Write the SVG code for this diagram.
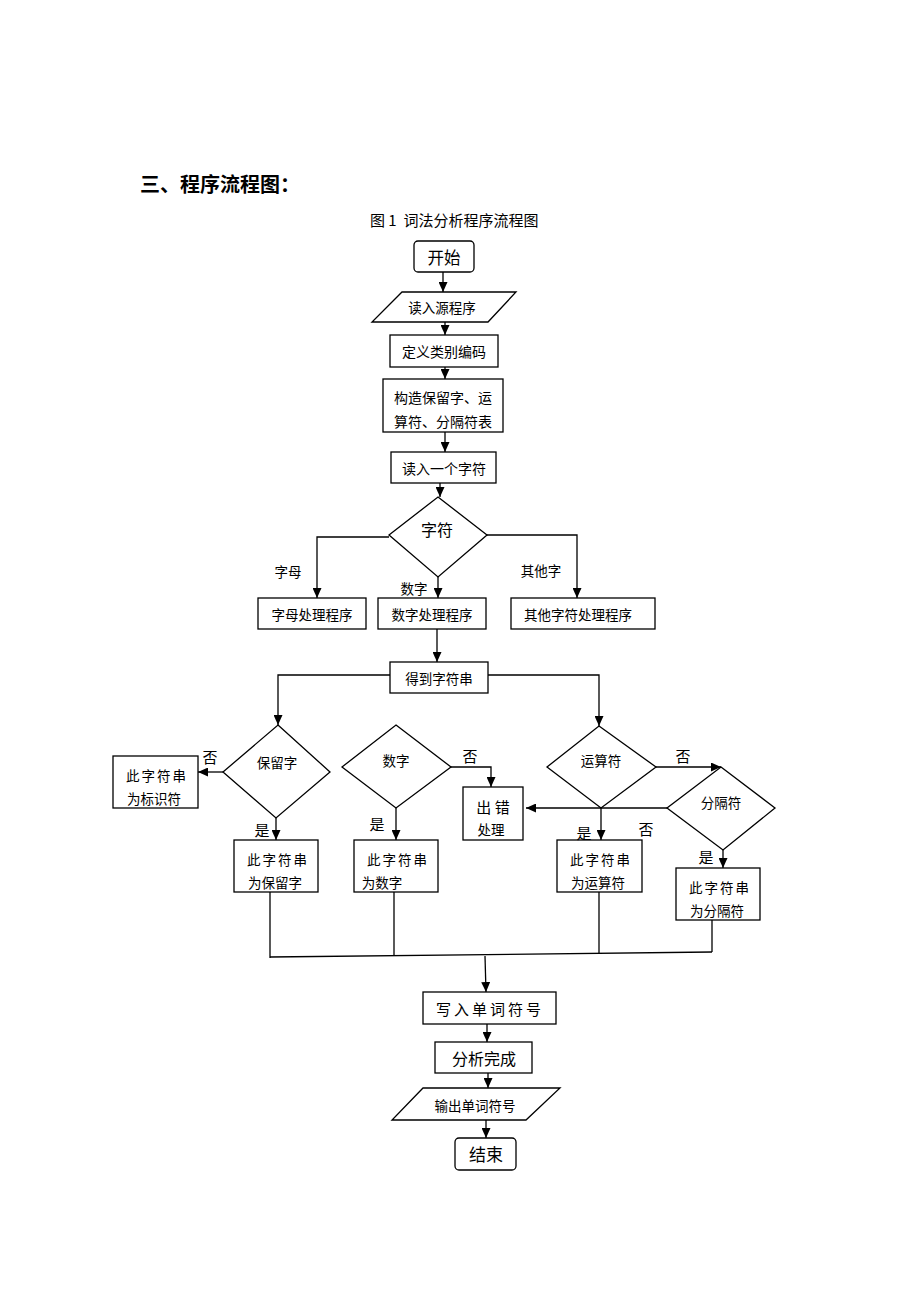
<svg xmlns="http://www.w3.org/2000/svg" width="920" height="1302" viewBox="0 0 920 1302">
<style>
.shape{fill:#fff;stroke:#000;stroke-width:1.3}
.ln{fill:none;stroke:#000;stroke-width:1.3}
.t{font-family:"Noto Sans CJK SC","Liberation Sans",sans-serif;font-size:13.5px;fill:#000;text-anchor:middle}
.sp{letter-spacing:2px}
</style>
<defs>
<marker id="ah" markerUnits="userSpaceOnUse" markerWidth="11" markerHeight="9" refX="10" refY="4.5" orient="auto">
<path d="M0,0 L10,4.5 L0,9 z" fill="#000"/>
</marker>
</defs>
<rect width="920" height="1302" fill="#fff"/>
<text x="140" y="192" style="font-family:'Noto Sans CJK SC','Liberation Sans',sans-serif;font-size:20px;font-weight:bold">三、程序流程图：</text>
<text x="370" y="226" xml:space="preserve" style="font-family:'Noto Sans CJK SC','Liberation Serif',serif;font-size:15px;white-space:pre">图 1  词法分析程序流程图</text>

<g id="start"><rect class="shape" x="414" y="241" width="60" height="31" rx="4"/><text class="t" x="444" y="264" style="font-size:16.5px">开始</text></g>
<g id="read-src"><polygon class="shape" points="402,292 516,292 488,322 372,322"/><text class="t" x="442" y="313">读入源程序</text></g>
<g id="define"><rect class="shape" x="390" y="335" width="108" height="32"/><text class="t" x="444" y="357" style="font-size:14px">定义类别编码</text></g>
<g id="build"><rect class="shape" x="383" y="379" width="120" height="53"/><text class="t" x="443" y="403" style="font-size:14px">构造保留字、运</text><text class="t" x="443" y="427" style="font-size:14px">算符、分隔符表</text></g>
<g id="read-char"><rect class="shape" x="391" y="452" width="105" height="31"/><text class="t" x="444" y="474" style="font-size:14px">读入一个字符</text></g>
<g id="char"><polygon class="shape" points="438,497 487,535 438,577 389,535"/><text class="t" x="437" y="536" style="font-size:16px">字符</text></g>
<g id="letter-proc"><rect class="shape" x="258" y="598" width="108" height="31"/><text class="t" x="312" y="620">字母处理程序</text></g>
<g id="digit-proc"><rect class="shape" x="378" y="598" width="108" height="31"/><text class="t" x="432" y="620">数字处理程序</text></g>
<g id="other-proc"><rect class="shape" x="511" y="598" width="144" height="31"/><text class="t" x="578" y="620">其他字符处理程序</text></g>
<g id="get-str"><rect class="shape" x="390" y="662" width="98" height="31"/><text class="t" x="439" y="684">得到字符串</text></g>
<g id="reserved"><polygon class="shape" points="278,725 330,772 276,818 223,772"/><text class="t" x="277" y="768">保留字</text></g>
<g id="number"><polygon class="shape" points="396,725 451,767 396,808 342,767"/><text class="t" x="396" y="766">数字</text></g>
<g id="operator"><polygon class="shape" points="599,726 656,767 601,808 547,767"/><text class="t" x="601" y="766">运算符</text></g>
<g id="separator"><polygon class="shape" points="721,767 775,808 723,850 667,808"/><text class="t" x="721" y="808">分隔符</text></g>
<g id="identifier"><rect class="shape" x="113" y="756" width="85" height="52"/><text class="t sp" x="157" y="781">此字符串</text><text class="t" x="154" y="804">为标识符</text></g>
<g id="error"><rect class="shape" x="463" y="787" width="60" height="53"/><text class="t" x="493" y="813" style="font-size:15px">出 错</text><text class="t" x="491" y="835">处理</text></g>
<g id="is-reserved"><rect class="shape" x="234" y="840" width="84" height="52"/><text class="t sp" x="278" y="865">此字符串</text><text class="t" x="275" y="888">为保留字</text></g>
<g id="is-number"><rect class="shape" x="354" y="840" width="84" height="52"/><text class="t sp" x="398" y="865">此字符串</text><text class="t" x="382" y="888">为数字</text></g>
<g id="is-operator"><rect class="shape" x="557" y="840" width="85" height="52"/><text class="t sp" x="601" y="865">此字符串</text><text class="t" x="598" y="888">为运算符</text></g>
<g id="is-separator"><rect class="shape" x="676" y="868" width="84" height="52"/><text class="t sp" x="720" y="893">此字符串</text><text class="t" x="717" y="916">为分隔符</text></g>
<g id="write"><rect class="shape" x="423" y="992" width="133" height="32"/><text class="t" x="490" y="1015" style="font-size:15px;letter-spacing:3px">写入单词符号</text></g>
<g id="done"><rect class="shape" x="435" y="1042" width="97" height="31"/><text class="t" x="484" y="1065" style="font-size:16px">分析完成</text></g>
<g id="output"><polygon class="shape" points="423,1088 560,1088 526,1120 392,1120"/><text class="t" x="475" y="1111">输出单词符号</text></g>
<g id="end"><rect class="shape" x="455" y="1138" width="61" height="32" rx="4"/><text class="t" x="486" y="1161" style="font-size:17px">结束</text></g>

<g id="connectors">
<line class="ln" x1="443" y1="272" x2="443" y2="292" marker-end="url(#ah)"/>
<line class="ln" x1="445" y1="322" x2="445" y2="335" marker-end="url(#ah)"/>
<line class="ln" x1="445" y1="367" x2="445" y2="379" marker-end="url(#ah)"/>
<line class="ln" x1="445" y1="432" x2="445" y2="452" marker-end="url(#ah)"/>
<line class="ln" x1="440" y1="483" x2="440" y2="497" marker-end="url(#ah)"/>
<polyline class="ln" points="389,537 317,537 317,598" marker-end="url(#ah)"/>
<line class="ln" x1="438" y1="577" x2="438" y2="598" marker-end="url(#ah)"/>
<polyline class="ln" points="487,535 577,535 577,598" marker-end="url(#ah)"/>
<line class="ln" x1="437" y1="629" x2="437" y2="662" marker-end="url(#ah)"/>
<polyline class="ln" points="390,675 278,675 278,725" marker-end="url(#ah)"/>
<polyline class="ln" points="488,675 599,675 599,726" marker-end="url(#ah)"/>
<line class="ln" x1="223" y1="772" x2="198" y2="772" marker-end="url(#ah)"/>
<line class="ln" x1="276" y1="818" x2="276" y2="840" marker-end="url(#ah)"/>
<line class="ln" x1="396" y1="808" x2="396" y2="840" marker-end="url(#ah)"/>
<polyline class="ln" points="451,767 491,767 491,787" marker-end="url(#ah)"/>
<line class="ln" x1="656" y1="767" x2="721" y2="767" marker-end="url(#ah)"/>
<line class="ln" x1="667" y1="808" x2="526" y2="808" marker-end="url(#ah)"/>
<line class="ln" x1="601" y1="808" x2="601" y2="840" marker-end="url(#ah)"/>
<line class="ln" x1="723" y1="850" x2="723" y2="868" marker-end="url(#ah)"/>
<line class="ln" x1="270" y1="892" x2="270" y2="958"/>
<line class="ln" x1="394" y1="892" x2="394" y2="956"/>
<line class="ln" x1="599" y1="892" x2="599" y2="954"/>
<line class="ln" x1="712" y1="920" x2="712" y2="952"/>
<line class="ln" x1="270" y1="957" x2="712" y2="952"/>
<line class="ln" x1="485" y1="956" x2="486" y2="992" marker-end="url(#ah)"/>
<line class="ln" x1="487" y1="1024" x2="487" y2="1042" marker-end="url(#ah)"/>
<line class="ln" x1="488" y1="1073" x2="488" y2="1088" marker-end="url(#ah)"/>
<line class="ln" x1="486" y1="1120" x2="486" y2="1138" marker-end="url(#ah)"/>
<text class="t" x="288" y="577">字母</text>
<text class="t" x="414" y="594">数字</text>
<text class="t" x="541" y="576">其他字</text>
<text class="t" x="210" y="763" style="font-size:15px">否</text>
<text class="t" x="262" y="836" style="font-size:15px">是</text>
<text class="t" x="377" y="830" style="font-size:15px">是</text>
<text class="t" x="470" y="762" style="font-size:15px">否</text>
<text class="t" x="683" y="762" style="font-size:15px">否</text>
<text class="t" x="584" y="839" style="font-size:15px">是</text>
<text class="t" x="646" y="835" style="font-size:15px">否</text>
<text class="t" x="706" y="863" style="font-size:15px">是</text>
</g>
</svg>
